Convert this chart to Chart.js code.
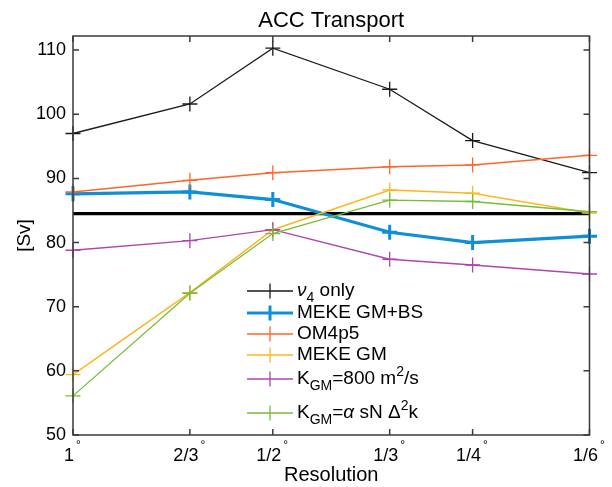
<!DOCTYPE html>
<html>
<head>
<meta charset="utf-8">
<script src="https://cdn.jsdelivr.net/npm/chart.js@4/dist/chart.umd.min.js"></script>
<style>
html,body{margin:0;padding:0;background:#fff;}
#wrap{width:612px;height:487px;position:relative;}
</style>
</head>
<body>
<div id="wrap"><canvas id="c" width="612" height="487"></canvas></div>
<script>
// Resolution as inverse degrees (1°, 2/3°, 1/2°, 1/3°, 1/4°, 1/6°)
const resolutions = [1, 1.5, 2, 3, 4, 6];
const resLabels = ['1', '2/3', '1/2', '1/3', '1/4', '1/6'];
const yTicks = [50, 60, 70, 80, 90, 100, 110];

const nu4Only   = [97.0, 101.6, 110.3, 103.9, 95.9, 90.9];
const mekeGMBS  = [87.6, 87.9, 86.7, 81.6, 80.0, 81.0];
const om4p5     = [87.9, 89.7, 90.9, 91.8, 92.1, 93.6];
const mekeGM    = [59.4, 72.2, 82.0, 88.2, 87.7, 84.6];
const kgm800    = [78.8, 80.3, 82.0, 77.4, 76.5, 75.1];
const kgmAlpha  = [56.1, 72.1, 81.4, 86.6, 86.4, 84.8];
const refLevel  = 84.5;

const FONT = '"Liberation Sans", Arial, Helvetica, sans-serif';
const LABEL_SHIFT = -4;

function pts(arr){ return arr.map((v,i)=>({x:resolutions[i], y:v})); }

const series = [
  {key:'nu4', data:nu4Only, color:'#1a1a1a', w:1.3, pw:1.3,
   label:[{t:'ν',it:true},{t:'4',sub:true},{t:' only'}]},
  {key:'gmbs', data:mekeGMBS, color:'#0E8FD6', w:3.2, pw:3,
   label:[{t:'MEKE GM+BS'}]},
  {key:'om4', data:om4p5, color:'#FF6529', w:1.5, pw:1.3,
   label:[{t:'OM4p5'}]},
  {key:'gm', data:mekeGM, color:'#FFB61E', w:1.5, pw:1.3,
   label:[{t:'MEKE GM'}]},
  {key:'k800', data:kgm800, color:'#B043B0', w:1.3, pw:1.3,
   label:[{t:'K'},{t:'GM',sub:true},{t:'=800 m'},{t:'2',sup:true},{t:'/s'}]},
  {key:'kal', data:kgmAlpha, color:'#76BD38', w:1.3, pw:1.3,
   label:[{t:'K'},{t:'GM',sub:true},{t:'='},{t:'α',it:true},{t:' sN Δ'},{t:'2',sup:true},{t:'k'}]}
];

const datasets = [{
  label:'ref', data:[{x:resolutions[0],y:refLevel},{x:resolutions[resolutions.length-1],y:refLevel}],
  borderColor:'#000', borderWidth:3.2, pointRadius:0, order:10, clip:false
}].concat(series.map((s,i)=>({
  label:s.key, data:pts(s.data), borderColor:s.color, backgroundColor:s.color,
  borderWidth:s.w, pointStyle:'cross', pointRadius:7.5, pointBorderWidth:s.pw,
  pointBorderColor:s.color, pointHoverRadius:7.5, order:5-i, clip:false
})));

const legendRowsY = [291, 313, 334, 355, 379, 413];

function drawRich(ctx, x, y, segs, size){
  let cx = x;
  for(const s of segs){
    const fs = (s.sub||s.sup) ? Math.round(size*0.72) : size;
    ctx.font = (s.it?'italic ':'') + fs + 'px ' + FONT;
    let dy = 0;
    if(s.sub) dy = size*0.38;
    if(s.sup) dy = -size*0.38;
    ctx.fillText(s.t, cx, y+dy);
    cx += ctx.measureText(s.t).width;
  }
}

const framePlugin = {
  id:'frame',
  afterDraw(chart){
    const ctx = chart.ctx, a = chart.chartArea;
    const xs = chart.scales.x, ys = chart.scales.y;
    ctx.save();
    ctx.strokeStyle = '#3a3a3a';
    ctx.lineWidth = 1.5;
    ctx.strokeRect(a.left, a.top, a.right-a.left, a.bottom-a.top);
    ctx.beginPath();
    const tl = 6;
    for(const v of resolutions){
      const px = xs.getPixelForValue(v);
      ctx.moveTo(px, a.bottom); ctx.lineTo(px, a.bottom-tl);
      ctx.moveTo(px, a.top); ctx.lineTo(px, a.top+tl);
    }
    for(const v of yTicks){
      const py = ys.getPixelForValue(v);
      ctx.moveTo(a.left, py); ctx.lineTo(a.left+tl, py);
      ctx.moveTo(a.right, py); ctx.lineTo(a.right-tl, py);
    }
    ctx.stroke();

    // degree marks on x tick labels
    ctx.fillStyle = '#000';
    ctx.textAlign = 'left';
    ctx.textBaseline = 'middle';
    resolutions.forEach((v,i)=>{
      const px = xs.getPixelForValue(v) + LABEL_SHIFT;
      ctx.font = '18px ' + FONT;
      const w = ctx.measureText(resLabels[i]).width;
      ctx.font = '12px ' + FONT;
      ctx.fillText('°', px + w/2 + 2, 445.5);
    });

    // Title
    ctx.font = '22px ' + FONT;
    ctx.textAlign = 'center';
    ctx.textBaseline = 'alphabetic';
    ctx.fillText('ACC Transport', (a.left+a.right)/2, 27);

    // Legend
    ctx.textAlign = 'left';
    ctx.textBaseline = 'middle';
    series.forEach((s,i)=>{
      const y = legendRowsY[i];
      ctx.strokeStyle = s.color;
      ctx.lineWidth = s.w;
      ctx.beginPath();
      ctx.moveTo(247, y); ctx.lineTo(293, y);
      ctx.stroke();
      ctx.lineWidth = s.pw;
      ctx.beginPath();
      ctx.moveTo(270, y-7.5); ctx.lineTo(270, y+7.5);
      ctx.stroke();
      ctx.fillStyle = '#000';
      drawRich(ctx, 297, y, s.label, 19);
    });
    ctx.restore();
  }
};

new Chart(document.getElementById('c'), {
  type:'line',
  data:{datasets},
  options:{
    responsive:false, animation:false, devicePixelRatio:1,
    layout:{padding:{top:36, right:14, left:0, bottom:0}},
    plugins:{legend:{display:false}, tooltip:{enabled:false}, title:{display:false}},
    elements:{line:{tension:0}},
    scales:{
      x:{
        type:'logarithmic', min:1, max:6,
        afterBuildTicks(scale){ scale.ticks = resolutions.map(v=>({value:v})); },
        afterFit(scale){ scale.height = 52; },
        grid:{display:false, drawTicks:false},
        border:{display:false},
        ticks:{
          autoSkip:false, maxRotation:0, padding:10, labelOffset:LABEL_SHIFT, color:'#000',
          font:{family:FONT, size:18},
          callback(v){ const i = resolutions.indexOf(v); return i>=0 ? resLabels[i] : ''; }
        },
        title:{display:true, text:'Resolution', color:'#000', font:{family:FONT, size:20}, padding:{top:0,bottom:0}}
      },
      y:{
        type:'linear', min:50, max:112.2,
        afterBuildTicks(scale){ scale.ticks = yTicks.map(v=>({value:v})); },
        afterFit(scale){ scale.width = 73; },
        grid:{display:false, drawTicks:false},
        border:{display:false},
        ticks:{padding:7, color:'#000', font:{family:FONT, size:18}},
        title:{display:true, text:'[Sv]', color:'#000', font:{family:FONT, size:19}, padding:{top:13,bottom:0}}
      }
    }
  },
  plugins:[framePlugin]
});
</script>
</body>
</html>
